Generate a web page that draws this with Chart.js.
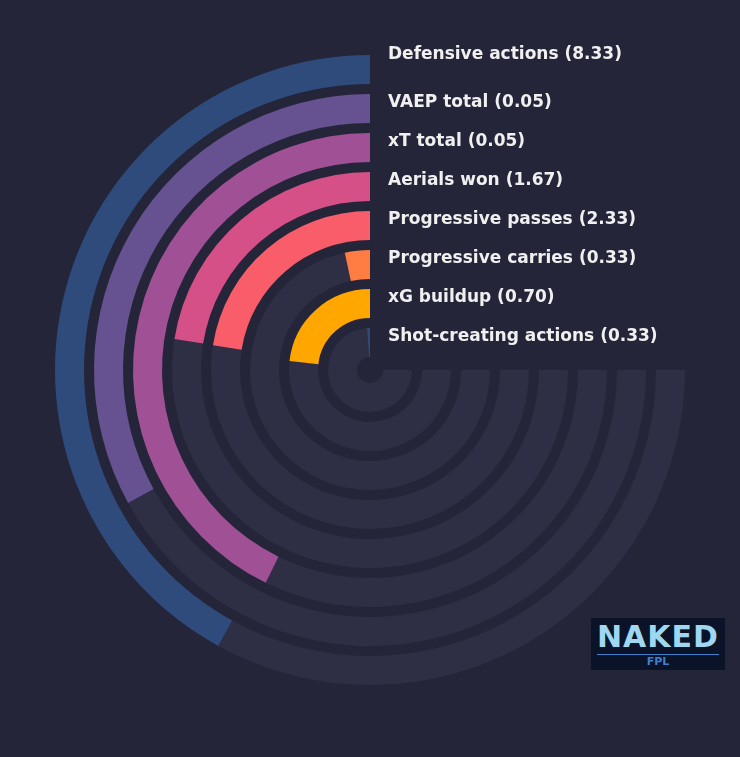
<!DOCTYPE html>
<html><head><meta charset="utf-8">
<script src="https://cdn.jsdelivr.net/npm/chart.js@4"></script>
<style>
html,body{margin:0;padding:0;background:#25253a;width:740px;height:757px;overflow:hidden;font-family:"DejaVu Sans",sans-serif}
#wrap{position:absolute;left:0;top:0;width:740px;height:757px}
#logo{position:absolute;left:591px;top:618px;width:134px;height:52px;background:#0a1327;text-align:center;color:#9fd6f0;font-weight:bold}
</style></head><body>
<div id="wrap"><canvas id="c" width="740" height="757"></canvas></div>
<div id="logo"><div style="font-size:30px;letter-spacing:1px;line-height:34px;margin-top:2px">NAKED</div><div style="font-size:11px;color:#3f7fd0;border-top:1px solid #3f7fd0;margin:0 6px;line-height:13px">FPL</div></div>
<script>
const categories=["Defensive actions","VAEP total","xT total","Aerials won","Progressive passes","Progressive carries","xG buildup","Shot-creating actions"];
const values=[8.33,0.05,0.05,1.67,2.33,0.33,0.70,0.33];
const fractions=[0.56,0.44,0.57,0.30,0.30,0.045,0.31,0.015];
const colors=["#2f4b7c","#665191","#a05195","#d45087","#f95d6a","#ff7c43","#ffa600","#2f4b7c"];
const TRACK="#2e2e44";
const datasets=[];
categories.forEach((c,i)=>{
  if(i>0) datasets.push({data:[1],backgroundColor:["rgba(0,0,0,0)"],borderWidth:0,weight:10,spacer:true});
  const f=fractions[i]*270;
  datasets.push({label:c,data:[90,270-f,f],backgroundColor:["rgba(0,0,0,0)",TRACK,colors[i]],borderWidth:0,weight:29});
});
const labelPlugin={id:"lbl",afterDraw(chart){
  const ctx=chart.ctx;ctx.save();
  ctx.font="bold 17px 'DejaVu Sans'";ctx.fillStyle="#f0f0f0";ctx.textBaseline="middle";
  let k=0;
  chart.data.datasets.forEach((d,di)=>{
    if(d.spacer)return;
    const a=chart.getDatasetMeta(di).data[0];
    const r=(a.outerRadius+a.innerRadius)/2;
    ctx.fillText(categories[k]+" ("+values[k].toFixed(2)+")",a.x+18,a.y-r-(k===0?14.5:5.5));
    k++;
  });
  ctx.restore();
}};
new Chart(document.getElementById("c"),{type:"doughnut",
 data:{labels:["gap","track","value"],datasets},
 options:{responsive:false,animation:false,cutout:13,layout:{padding:{left:55,top:55,right:55,bottom:72}},
  plugins:{legend:{display:false},tooltip:{enabled:false}}},
 plugins:[labelPlugin]});
</script></body></html>
